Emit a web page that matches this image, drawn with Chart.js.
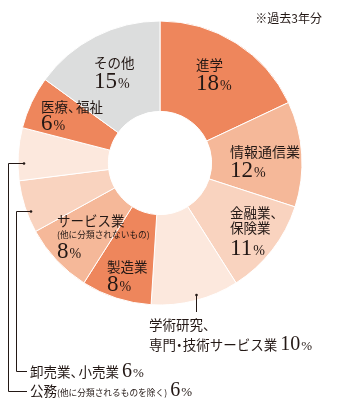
<!DOCTYPE html>
<html>
<head>
<meta charset="utf-8">
<script src="https://cdn.jsdelivr.net/npm/chart.js@4/dist/chart.umd.min.js"></script>
<style>
html,body{margin:0;padding:0;background:#fff;}
#wrap{position:relative;width:343px;height:411px;}
</style>
</head>
<body>
<div id="wrap"><canvas id="c"></canvas></div>
<script>
// ---- data ----
const categories = ['進学','情報通信業','金融業、保険業','学術研究、専門・技術サービス業','製造業','サービス業(他に分類されないもの)','卸売業、小売業','公務(他に分類されるものを除く)','医療、福祉','その他'];
const shares = [18, 12, 11, 10, 8, 8, 6, 6, 6, 15];
const note = '※過去3年分';

// ---- styles ----
const DARK = '#EE865C', MID = '#F5B899', LIGHT = '#F9D3BF', PALE = '#FCE8DD', GRAY = '#DCDDDD';
const sliceColors = [DARK, MID, LIGHT, PALE, DARK, MID, LIGHT, PALE, DARK, GRAY];
const TXT = '#231815';
const JP = '"Noto Sans CJK JP", "Noto Sans", sans-serif';
const SER = '"Liberation Serif", "DejaVu Serif", serif';
const F = {
  jp: [13.5, JP],
  jp14: [14, JP],
  sm: [8.7, JP],
  num: [23, SER],
  numS: [20, SER],
  pct: [14, SER],
  pctS: [13, SER],
  note: [12, JP]
};

// label layout: [sliceIndex, x, lines[[baselineY, parts]]], 'N' = value number, 'P' = percent sign
const labelLayout = [
  [0, 196, [[70, [['進学','jp']]], [90, [['N','num'],['P','pct']]]]],
  [1, 230, [[157, [['情報通信業','jp14']]], [177, [['N','num'],['P','pct']]]]],
  [2, 230, [[218, [['金融業、','jp']]], [233, [['保険業','jp']]], [255, [['N','num'],['P','pct']]]]],
  [3, 149, [[330, [['学術研究、','jp']]], [350, [['専門・技術サービス業 ','jp'],['N','numS'],['P','pctS']]]]],
  [4, 107, [[272, [['製造業','jp']]], [291, [['N','num'],['P','pct']]]]],
  [5, 57, [[226, [['サービス業','jp']]], [238, [['(他に分類されないもの)','sm']]], [258, [['N','num'],['P','pct']]]]],
  [6, 30, [[377, [['卸売業、小売業 ','jp'],['N','numS'],['P','pctS']]]]],
  [7, 30, [[396, [['公務','jp'],['(他に分類されるものを除く)','sm'],[' ','jp'],['N','numS'],['P','pctS']]]]],
  [8, 41, [[112, [['医療、福祉','jp']]], [130, [['N','num'],['P','pct']]]]],
  [9, 94, [[68, [['その他','jp']]], [88, [['N','num'],['P','pct']]]]]
];
const leaders = [
  [[196.5,295],[196.5,312]],
  [[31,211.5],[16.5,211.5],[16.5,371.5],[27,371.5]],
  [[24,163.5],[8.5,163.5],[8.5,391.5],[27,391.5]]
];
const dots = [[196.5,295],[31,211.5],[24,163.5]];

function drawStr(ctx, s, x, y, size) {
  // draw text with narrowed Japanese punctuation (、・)
  let cx = x;
  let buf = '';
  const flush = () => { if (buf) { ctx.fillText(buf, cx, y); cx += ctx.measureText(buf).width; buf = ''; } };
  for (const ch of s) {
    if (ch === '、') { flush(); ctx.fillText(ch, cx, y); cx += size * 0.6; }
    else if (ch === '・') { flush(); ctx.fillText(ch, cx - size * 0.25, y); cx += size * 0.5; }
    else buf += ch;
  }
  flush();
  return cx;
}

const labelPlugin = {
  id: 'labels',
  afterDraw(chart) {
    const ctx = chart.ctx;
    ctx.save();
    ctx.fillStyle = TXT;
    ctx.textBaseline = 'alphabetic';
    ctx.textAlign = 'left';
    labelLayout.forEach(([idx, x, lines]) => {
      lines.forEach(([y, parts]) => {
        let cx = x;
        parts.forEach(([t, f]) => {
          const s = t === 'N' ? String(shares[idx]) : (t === 'P' ? '%' : t);
          const [size, fam] = F[f];
          ctx.font = size + 'px ' + fam;
          cx = drawStr(ctx, s, cx, y, size) + (t === 'N' ? 1 : 0);
        });
      });
    });
    // note
    ctx.font = F.note[0] + 'px ' + F.note[1];
    ctx.textAlign = 'right';
    ctx.fillText(note, 322, 23);
    // leader lines
    ctx.strokeStyle = TXT;
    ctx.lineWidth = 1;
    leaders.forEach(pts => {
      ctx.beginPath();
      pts.forEach((p, i) => i ? ctx.lineTo(p[0], p[1]) : ctx.moveTo(p[0], p[1]));
      ctx.stroke();
    });
    dots.forEach(([dx, dy]) => {
      ctx.beginPath();
      ctx.arc(dx, dy, 1.3, 0, Math.PI * 2);
      ctx.fill();
    });
    ctx.restore();
  }
};

new Chart(document.getElementById('c'), {
  type: 'doughnut',
  data: {
    labels: categories,
    datasets: [{
      data: shares,
      backgroundColor: sliceColors,
      borderColor: '#ffffff',
      borderWidth: 1
    }]
  },
  options: {
    responsive: true,
    maintainAspectRatio: false,
    animation: false,
    events: [],
    radius: 142,
    cutout: 58,
    layout: { padding: { left: 0, right: 23, top: 0, bottom: 85 } },
    plugins: { legend: { display: false }, tooltip: { enabled: false } }
  },
  plugins: [labelPlugin]
});
</script>
</body>
</html>
